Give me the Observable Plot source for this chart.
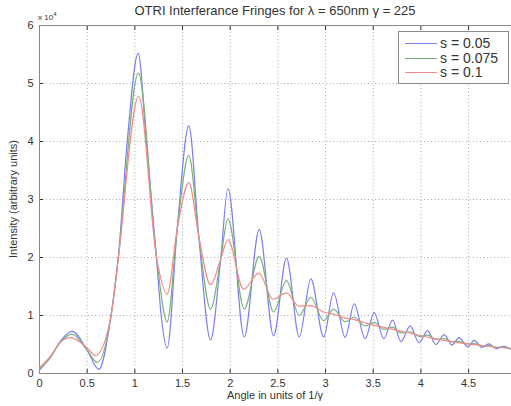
<!DOCTYPE html>
<html><head><meta charset="utf-8">
<script src="https://cdn.jsdelivr.net/npm/d3@7"></script>
<script src="https://cdn.jsdelivr.net/npm/@observablehq/plot@0.6"></script>
<style>
body{margin:0;background:#fff;font-family:"Liberation Sans",Arial,sans-serif;color:#333}
#wrap{position:relative;width:511px;height:406px;overflow:hidden}
#wrap svg{position:absolute;left:0;top:0}
.ov{position:absolute;white-space:nowrap}
#title{left:39px;width:472px;top:3px;text-align:center;font-size:13px;color:#333}
#mult{left:38px;top:11px;font-size:8px;color:#333}
#mult sup{font-size:6px}
#xlab{left:39px;width:472px;top:389px;text-align:center;font-size:11px}
#ylab{left:13px;top:199px;font-size:11px;transform:translate(-50%,-50%) rotate(-90deg)}
#legend{left:398px;top:31px;width:109px;height:51px;border:1px solid #8a8a8a;background:#fff}
.row{position:absolute;left:0;height:14px;font-size:14px;line-height:14px;color:#333}
.sw{position:absolute;left:6px;top:7px;width:32px;height:0;border-top:1.3px solid}
.lt{position:absolute;left:41px;top:0}
</style></head><body>
<div id="wrap">
  <div class="ov" id="title">OTRI Interferance Fringes for λ = 650nm γ = 225</div>
  <div class="ov" id="mult">x 10<sup>4</sup></div>
  <div class="ov" id="xlab">Angle in units of 1/γ</div>
  <div class="ov" id="ylab">Intensity (arbitrary units)</div>
  <div class="ov" id="legend"></div>
</div>
<script>
// Series names and colours
const seriesNames = ["s = 0.05", "s = 0.075", "s = 0.1"];
const seriesColors = ["#7d7df5", "#78b478", "#f58888"];

// Axis ticks
const xTicks = [0, 0.5, 1, 1.5, 2, 2.5, 3, 3.5, 4, 4.5];
const yTicks = [0, 1, 2, 3, 4, 5, 6];

// s = 0.05 (angle in 1/gamma, intensity in units of 1e4)
const angle_s005 = [0,0.115,0.22,0.343,0.5,0.622,0.745,0.825,0.92,1.035,1.12,1.227,1.276,1.339,1.444,1.566,1.67,1.794,1.90,1.976,2.147,2.304,2.455,2.59,2.724,2.846,2.98,3.084,3.206,3.30,3.416,3.51,3.61,3.703,3.79,3.888,3.98,4.07,4.157,4.245,4.325,4.40,4.49,4.56,4.64,4.71,4.79,4.867,4.95];
const intensity_s005 = [0.06,0.28,0.56,0.727,0.40,0.07,0.94,1.97,4.0,5.52,4.0,2.0,1.0,0.44,2.49,4.27,2.37,0.58,1.97,3.19,0.63,2.48,0.65,1.99,0.63,1.63,0.63,1.39,0.62,1.20,0.60,1.05,0.60,0.92,0.55,0.82,0.53,0.74,0.50,0.67,0.49,0.62,0.46,0.57,0.45,0.51,0.43,0.47,0.41];

// s = 0.075
const angle_s0075 = [0,0.115,0.22,0.34,0.5,0.605,0.745,0.825,1.037,1.227,1.339,1.444,1.566,1.67,1.794,1.90,1.976,2.147,2.304,2.455,2.59,2.724,2.846,2.98,3.084,3.206,3.30,3.416,3.51,3.61,3.703,3.79,3.888,3.98,4.07,4.157,4.245,4.325,4.40,4.49,4.56,4.64,4.71,4.79,4.867,4.95];
const intensity_s0075 = [0.08,0.28,0.54,0.68,0.40,0.19,0.94,1.97,5.18,2.0,0.89,2.49,3.76,2.37,1.11,1.97,2.67,1.11,2.02,1.06,1.60,1.0,1.31,0.91,1.11,0.89,0.97,0.82,0.88,0.76,0.80,0.70,0.72,0.64,0.66,0.59,0.60,0.55,0.555,0.51,0.515,0.48,0.48,0.45,0.45,0.42];

// s = 0.1
const angle_s01 = [0,0.115,0.22,0.325,0.5,0.587,0.745,0.825,1.04,1.227,1.339,1.444,1.566,1.67,1.794,1.90,1.976,2.14,2.30,2.45,2.59,2.72,2.846,2.98,3.09,3.2,3.3,3.44,3.6,3.79,3.98,4.14,4.32,4.49,4.7,4.95];
const intensity_s01 = [0.1,0.3,0.54,0.62,0.44,0.31,0.94,1.97,4.78,2.0,1.37,2.49,3.29,2.37,1.53,1.97,2.31,1.45,1.73,1.28,1.39,1.16,1.17,1.06,1.02,0.96,0.93,0.86,0.80,0.73,0.66,0.60,0.55,0.51,0.47,0.43];

const angles = [angle_s005, angle_s0075, angle_s01];
const intensities = [intensity_s005, intensity_s0075, intensity_s01];
const rows = [];
seriesNames.forEach((name, i) => {
  angles[i].forEach((a, j) => rows.push({series: name, angle: a, intensity: intensities[i][j] * 1e4}));
});

const chart = Plot.plot({
  width: 511, height: 406,
  marginTop: 25, marginLeft: 39, marginRight: 0, marginBottom: 33,
  style: {fontFamily: "Liberation Sans, Arial, sans-serif", fontSize: "11px", color: "#333", background: "transparent", overflow: "visible"},
  x: {domain: [0, 4.95]},
  y: {domain: [0, 6e4]},
  color: {domain: seriesNames, range: seriesColors},
  marks: [
    Plot.gridX(xTicks, {stroke: "#a8a8a8", strokeOpacity: 1, strokeDasharray: "1,2.5"}),
    Plot.gridY(yTicks.map(d => d * 1e4), {stroke: "#a8a8a8", strokeOpacity: 1, strokeDasharray: "1,2.5"}),
    Plot.axisX(xTicks, {anchor: "bottom", tickSize: -4, tickPadding: 10, label: null, tickFormat: d => d}),
    Plot.axisX(xTicks, {anchor: "top", tickSize: -4, label: null, tickFormat: () => ""}),
    Plot.axisY(yTicks.map(d => d * 1e4), {anchor: "left", tickSize: -4, tickPadding: 10, label: null, tickFormat: d => d / 1e4}),
    Plot.ruleY([0, 6e4], {stroke: "#888"}),
    Plot.ruleX([0], {stroke: "#888"}),
    Plot.line(rows, {x: "angle", y: "intensity", z: "series", stroke: "series", strokeWidth: 1.2, curve: "monotone-x"})
  ]
});
document.getElementById("wrap").prepend(chart);

const legend = document.getElementById("legend");
seriesNames.forEach((name, i) => {
  const r = document.createElement("div");
  r.className = "row";
  r.style.top = (4 + i * 14.5) + "px";
  r.innerHTML = `<div class="sw" style="border-color:${seriesColors[i]}"></div><div class="lt">${name}</div>`;
  legend.appendChild(r);
});
</script>
</body></html>
